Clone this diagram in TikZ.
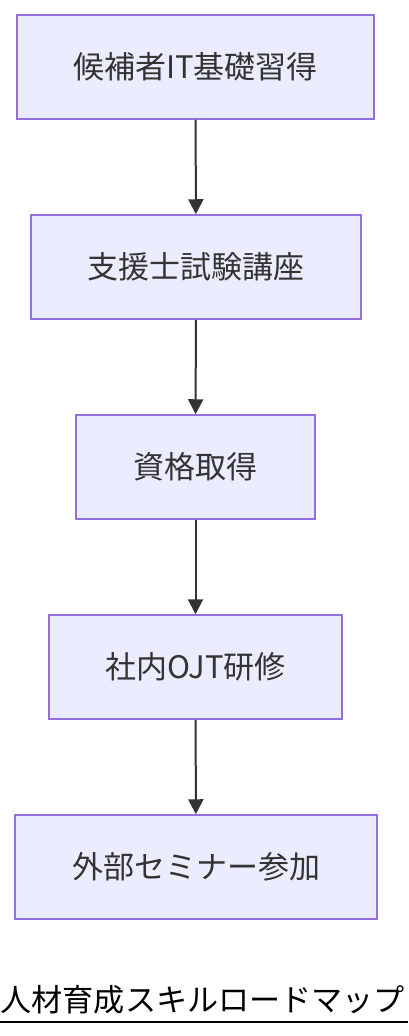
\documentclass[tikz,border=0pt]{standalone}
\usepackage{fontspec}
\setmainfont{Noto Sans CJK JP}
\usetikzlibrary{arrows.meta}
\definecolor{boxfill}{HTML}{ECECFF}
\definecolor{boxline}{HTML}{9370DB}
\definecolor{ink}{HTML}{333333}
\begin{document}
\begin{tikzpicture}[x=1pt,y=-1pt,
    stage/.style={draw=boxline, fill=boxfill, line width=1.5pt, text=ink,
      minimum height=104pt, inner sep=0pt, font=\fontsize{31}{36}\selectfont},
    flow/.style={draw=ink, line width=2pt, -{Triangle[length=15pt,width=15pt]}}]
    \useasboundingbox (0,0) rectangle (408,1036);
    \node [stage, minimum width=357pt] (it) at (195.5,67) {候補者IT基礎習得};
    \node [stage, minimum width=330pt] (course) at (196,267) {支援士試験講座};
    \node [stage, minimum width=239pt] (cert) at (195.5,467) {資格取得};
    \node [stage, minimum width=293pt] (ojt) at (195.5,667) {社内OJT研修};
    \node [stage, minimum width=362pt] (seminar) at (196,867) {外部セミナー参加};
    \draw [flow] (it) -- (course);
    \draw [flow] (course) -- (cert);
    \draw [flow] (cert) -- (ojt);
    \draw [flow] (ojt) -- (seminar);
    % title
    \node [anchor=base west, inner sep=0pt, font=\fontsize{31.1}{36}\selectfont] (title) at (0.5,1011) {人材育成スキルロードマップ};
    \draw [line width=2pt] (0,1022) -- (408,1022);
\end{tikzpicture}
\end{document}
